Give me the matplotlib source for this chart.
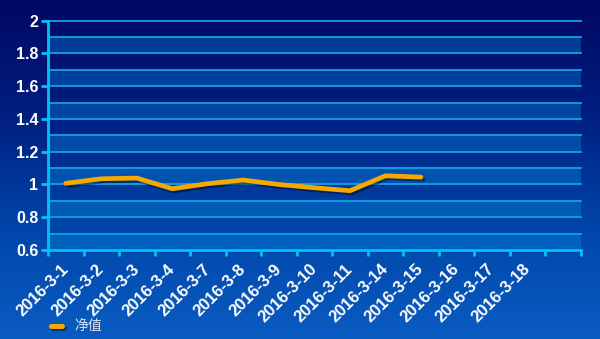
import numpy as np
import matplotlib
matplotlib.use("Agg")
import matplotlib.pyplot as plt
import matplotlib.patheffects as pe
from matplotlib.colors import LinearSegmentedColormap

# data
dates = ["2016-3-1", "2016-3-2", "2016-3-3", "2016-3-4", "2016-3-7",
         "2016-3-8", "2016-3-9", "2016-3-10", "2016-3-11", "2016-3-14",
         "2016-3-15", "2016-3-16", "2016-3-17", "2016-3-18", ""]
net_value = [1.007, 1.035, 1.039, 0.974, 1.005, 1.027, 1.0, 0.98, 0.962,
             1.053, 1.045]
y_ticks = [0.6, 0.8, 1.0, 1.2, 1.4, 1.6, 1.8, 2.0]
y_tick_labels = ["0.6", "0.8", "1", "1.2", "1.4", "1.6", "1.8", "2"]

LINE_COLOR = "#f5a900"
AXIS_COLOR = "#00c4f0"

fig = plt.figure(figsize=(6, 3.39), dpi=100)

# gradient background
bg = fig.add_axes([0, 0, 1, 1], zorder=0)
grad_cmap = LinearSegmentedColormap.from_list(
    "bg", ["#0a5cc2", "#0045a8", "#001e80", "#000862"])
bg.imshow(np.linspace(0, 1, 256).reshape(-1, 1), aspect="auto",
          cmap=grad_cmap, extent=[0, 1, 0, 1], origin="lower")
bg.axis("off")

ax = fig.add_axes([0.08, 0.2625, 0.888, 0.6765], zorder=1)
ax.set_facecolor("none")

n = len(dates)
ax.set_xlim(0, n)
ax.set_ylim(0.6, 2.0)

# alternating bands and grid lines
for k in range(14):
    lo = 0.6 + k * 0.1
    if k % 2 == 0:
        ax.axhspan(lo, lo + 0.1, color="#0090e0", alpha=0.35, lw=0, zorder=0)
    ax.axhline(lo + 0.1, color="#12a0e8", lw=1.3, zorder=1, clip_on=False)

x = np.arange(len(net_value)) + 0.5
line, = ax.plot(x, net_value, color=LINE_COLOR, lw=3.4, solid_capstyle="round",
                solid_joinstyle="round", zorder=3)
line.set_path_effects([pe.SimpleLineShadow(offset=(1.5, -1.5), alpha=0.4),
                       pe.Normal()])

for s in ["top", "right"]:
    ax.spines[s].set_visible(False)
for s in ["left", "bottom"]:
    ax.spines[s].set_color(AXIS_COLOR)
    ax.spines[s].set_linewidth(2)

ax.set_yticks(y_ticks)
ax.set_yticklabels(y_tick_labels)
ax.set_xticks(np.arange(n + 1))
ax.set_xticks(np.arange(n) + 0.5, minor=True)
ax.set_xticklabels([])
ax.set_xticklabels(dates, minor=True)
ax.tick_params(axis="x", which="major", length=4, width=2, color=AXIS_COLOR,
               direction="out")
ax.tick_params(axis="x", which="minor", length=0, pad=12)
ax.tick_params(axis="y", length=5, width=2, color=AXIS_COLOR, pad=2)

for lbl in ax.get_yticklabels():
    lbl.set_fontfamily("Liberation Sans")
    lbl.set_fontweight("bold")
    lbl.set_fontsize(11.5)
    lbl.set_color("white")
for lbl in ax.get_xticklabels(minor=True):
    lbl.set_fontfamily("Liberation Sans")
    lbl.set_fontweight("bold")
    lbl.set_fontsize(12)
    lbl.set_color("white")
    lbl.set_rotation(45)
    lbl.set_ha("right")
    lbl.set_va("center")
    lbl.set_rotation_mode("anchor")

# legend
fig.lines.append(plt.Line2D([0.085, 0.103], [0.038, 0.038], color=LINE_COLOR,
                            lw=3.6, solid_capstyle="round",
                            transform=fig.transFigure, zorder=5,
                            path_effects=[pe.SimpleLineShadow(offset=(1.5, -1.5), alpha=0.4),
                                          pe.Normal()]))
fig.text(0.124, 0.038, "净值", color="#d8e4f4", fontsize=10, va="center",
         ha="left", family=["Noto Sans CJK SC", "DejaVu Sans"], zorder=5)

fig.savefig("out.png", dpi=100)
